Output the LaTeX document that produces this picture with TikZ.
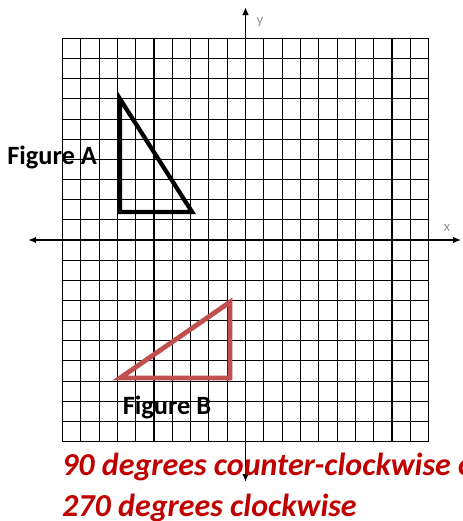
\documentclass[tikz,border=0pt]{standalone}
\usepackage{fontspec}
\setmainfont{Carlito}
\usepackage{tikz}
\usetikzlibrary{arrows.meta, positioning, calc}

\definecolor{figred}{RGB}{192,80,77}
\definecolor{answerred}{RGB}{192,0,0}

\begin{document}
\begin{tikzpicture}[x=13.725pt, y=15.11pt,
    axislabel/.style={text=gray!80, font=\fontsize{11}{13}\selectfont, inner sep=0pt},
    figlabel/.style={font=\fontsize{19.8}{22}\selectfont\bfseries, inner sep=0pt},
    answer/.style={text=answerred, font=\fontsize{24}{28}\selectfont\bfseries\itshape, inner sep=0pt, anchor=base west}]
    \useasboundingbox (-13.415,-13.945) rectangle (11.83,11.91);

    % grid and axes
    \foreach \x in {-10,...,10}
        \draw[black, line width=0.8pt] (\x,-10) -- (\x,10);
    \foreach \y in {-10,...,10}
        \draw[black, line width=0.8pt] (-10,\y) -- (10,\y);
    \draw[line width=1.2pt, -{Latex[length=6pt, width=5pt]}] (0,0) -- (11.78,0);
    \draw[line width=1.2pt, -{Latex[length=6pt, width=5pt]}] (0,0) -- (-11.88,0);
    \draw[line width=1.2pt, -{Latex[length=6pt, width=5pt]}] (0,0) -- (0,11.56);
    \draw[line width=1.2pt, -{Latex[length=6pt, width=5pt]}] (0,0) -- (0,-12.01);
    \node[axislabel] (xlab) at (11.01,0.6) {x};
    \node[axislabel] (ylab) at (0.79,10.82) {y};

    % figure A
    \coordinate (A1) at (-6.86,7);
    \coordinate (A2) at (-6.86,1.39);
    \coordinate (A3) at (-2.92,1.39);
    \draw[line width=3.2pt, line join=miter] (A1) -- (A2) -- (A3) -- cycle;
    \node[figlabel, anchor=west] (figA) at (-13.03,4.12) {Figure A};

    % figure B
    \coordinate (B1) at (-6.86,-6.85);
    \coordinate (B2) at (-0.85,-6.85);
    \coordinate (B3) at (-0.85,-3.08);
    \draw[figred, line width=3.6pt, line join=miter] (B1) -- (B2) -- (B3) -- cycle;
    \node[figlabel] (figB) at (-4.29,-8.29) {Figure B};

    % answer
    \node[answer] (ans1) at (-10.03,-11.71) {90 degrees counter-clockwise o};
    \node[answer] (ans2) at (-10.03,-13.71) {270 degrees clockwise};
\end{tikzpicture}
\end{document}
